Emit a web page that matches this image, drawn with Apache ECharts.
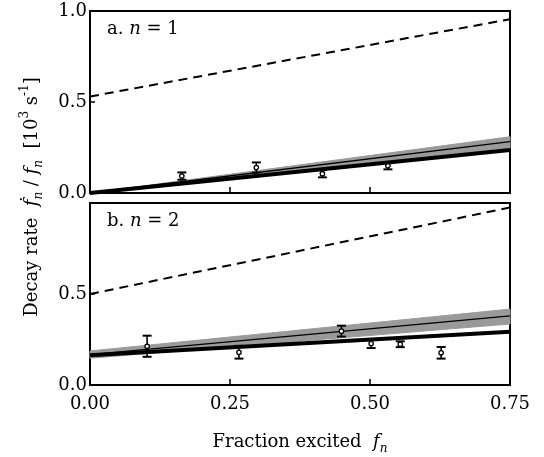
<!DOCTYPE html>
<html><head><meta charset="utf-8">
<script src="https://cdn.jsdelivr.net/npm/echarts@6/dist/echarts.min.js"></script>
<style>html,body{margin:0;padding:0;background:#fff}#c{width:544px;height:457px}</style>
</head><body><div id="c"></div>
<script>
// ---- tick labels ----
const xTicks = [0, 0.25, 0.5, 0.75];
const xTickLabels = ['0.00', '0.25', '0.50', '0.75'];
const yTicks = [0, 0.5, 1.0];
const yTickLabels = ['0.0', '0.5', '1.0'];

// ---- x positions of the straight model lines ----
const lineX = [0, 0.75];

// ---- panel a (n = 1) ----
const dashedA = [0.53, 0.955];
const thickA = [0.0, 0.236];
const thinA = [0.0, 0.282];
const bandLowA = [0.0, 0.245];
const bandHighA = [0.0, 0.309];
const ptsXA = [0.164, 0.297, 0.415, 0.532];
const ptsYA = [0.093, 0.140, 0.106, 0.150];
const errA = [0.020, 0.028, 0.020, 0.020];

// ---- panel b (n = 2) ----
const dashedB = [0.50, 0.975];
const thickB = [0.163, 0.292];
const thinB = [0.167, 0.380];
const bandLowB = [0.147, 0.335];
const bandHighB = [0.187, 0.417];
const ptsXB = [0.102, 0.266, 0.449, 0.502, 0.554, 0.627];
const ptsYB = [0.213, 0.180, 0.296, 0.228, 0.224, 0.177];
const errB = [0.058, 0.035, 0.030, 0.025, 0.016, 0.032];

const FONT = 'DejaVu Serif';
const chart = echarts.init(document.getElementById('c'), null, {renderer: 'canvas'});

function pairs(xs, ys) { return xs.map((x, i) => [x, ys[i]]); }

function bandSeries(idx, low, high) {
  return {
    type: 'custom', xAxisIndex: idx, yAxisIndex: idx, z: 1, silent: true,
    data: lineX.map((x, i) => [x, low[i], high[i]]),
    renderItem: function (params, api) {
      if (params.dataIndex !== 0) return null;
      const pts = [];
      for (let i = 0; i < lineX.length; i++) pts.push(api.coord([lineX[i], low[i]]));
      for (let i = lineX.length - 1; i >= 0; i--) pts.push(api.coord([lineX[i], high[i]]));
      return {type: 'polygon', shape: {points: pts}, style: {fill: '#9a9a9a', stroke: '#9a9a9a', lineWidth: 1}};
    }
  };
}

function errSeries(idx, xs, ys, es) {
  return {
    type: 'custom', xAxisIndex: idx, yAxisIndex: idx, z: 10, silent: true,
    data: xs.map((x, i) => [x, ys[i], es[i]]),
    renderItem: function (params, api) {
      const x = api.value(0), y = api.value(1), e = api.value(2);
      const c = api.coord([x, y]);
      const hi = api.coord([x, y + e]);
      const lo = api.coord([x, y - e]);
      const cw = 4.5;
      const st = {stroke: '#000', lineWidth: 1.6, fill: null};
      return {type: 'group', children: [
        {type: 'line', shape: {x1: c[0], y1: hi[1], x2: c[0], y2: lo[1]}, style: st},
        {type: 'line', shape: {x1: c[0] - cw, y1: hi[1], x2: c[0] + cw, y2: hi[1]}, style: {stroke: '#000', lineWidth: 2}},
        {type: 'line', shape: {x1: c[0] - cw, y1: lo[1], x2: c[0] + cw, y2: lo[1]}, style: {stroke: '#000', lineWidth: 2}},
        {type: 'circle', shape: {cx: c[0], cy: c[1], r: 2.2}, style: {fill: '#fff', stroke: '#000', lineWidth: 1.3}}
      ]};
    }
  };
}

function lineSeries(idx, ys, width, dashed, z) {
  return {
    type: 'line', xAxisIndex: idx, yAxisIndex: idx, z: z, silent: true,
    data: pairs(lineX, ys), symbol: 'none', animation: false,
    lineStyle: {color: '#000', width: width, type: dashed ? [9, 6] : 'solid'}
  };
}

function xAxisCfg(idx, showLabels) {
  return {
    type: 'value', gridIndex: idx, min: 0, max: 0.75, interval: 0.25,
    splitLine: {show: false},
    axisLine: {show: false},
    axisTick: {show: true, inside: true, length: 6, lineStyle: {color: '#000', width: 1.5}},
    axisLabel: {show: showLabels, margin: 10, color: '#000', fontFamily: FONT, fontSize: 18,
      formatter: v => xTickLabels[xTicks.findIndex(t => Math.abs(t - v) < 1e-9)]}
  };
}
function yAxisCfg(idx, showMax) {
  return {
    type: 'value', gridIndex: idx, min: 0, max: 1, interval: 0.5,
    splitLine: {show: false},
    axisLine: {show: false},
    axisTick: {show: true, inside: true, length: 5, lineStyle: {color: '#000', width: 1.5}},
    axisLabel: {margin: 3, color: '#000', fontFamily: FONT, fontSize: 18, showMaxLabel: showMax,
      formatter: v => yTickLabels[yTicks.findIndex(t => Math.abs(t - v) < 1e-9)]}
  };
}

const option = {
  backgroundColor: '#fff',
  animation: false,
  grid: [
    {left: 90, top: 11, width: 420, height: 182, show: true, borderColor: '#000', borderWidth: 2, backgroundColor: 'transparent'},
    {left: 90, top: 203, width: 420, height: 182, show: true, borderColor: '#000', borderWidth: 2, backgroundColor: 'transparent'}
  ],
  xAxis: [xAxisCfg(0, false), xAxisCfg(1, true)],
  yAxis: [yAxisCfg(0, true), yAxisCfg(1, false)],
  series: [
    bandSeries(0, bandLowA, bandHighA),
    lineSeries(0, thinA, 1.3, false, 3),
    lineSeries(0, thickA, 4, false, 4),
    lineSeries(0, dashedA, 2, true, 5),
    errSeries(0, ptsXA, ptsYA, errA),
    bandSeries(1, bandLowB, bandHighB),
    lineSeries(1, thinB, 1.3, false, 3),
    lineSeries(1, thickB, 4, false, 4),
    lineSeries(1, dashedB, 2, true, 5),
    errSeries(1, ptsXB, ptsYB, errB)
  ],
  graphic: [
    {type: 'text', left: 107, top: 20, style: {
      text: '{r|a. }{i|n}{r| = 1}', fill: '#000',
      rich: {r: {fontFamily: FONT, fontSize: 18, fill: '#000'}, i: {fontFamily: FONT, fontStyle: 'italic', fontSize: 18, fill: '#000'}}}},
    {type: 'text', left: 107, top: 212, style: {
      text: '{r|b. }{i|n}{r| = 2}', fill: '#000',
      rich: {r: {fontFamily: FONT, fontSize: 18, fill: '#000'}, i: {fontFamily: FONT, fontStyle: 'italic', fontSize: 18, fill: '#000'}}}},
    {type: 'text', x: 300, y: 442, style: {
      text: '{r|Fraction excited  }{i|f}{s|n}', align: 'center', verticalAlign: 'middle', fill: '#000',
      rich: {
        r: {fontFamily: FONT, fontSize: 18, lineHeight: 26, verticalAlign: 'middle', fill: '#000'},
        i: {fontFamily: FONT, fontStyle: 'italic', fontSize: 18, lineHeight: 26, verticalAlign: 'middle', fill: '#000'},
        s: {fontFamily: FONT, fontStyle: 'italic', fontSize: 12, lineHeight: 26, verticalAlign: 'bottom', fill: '#000'}
      }}},
    {type: 'text', x: 32, y: 197, rotation: Math.PI / 2, style: {
      text: '{r|Decay rate  }{i|ḟ}{s|n}{r| / }{i|f}{s|n}{r|  [10}{p|3}{r| s}{p|-1}{r|]}',
      align: 'center', verticalAlign: 'middle', fill: '#000',
      rich: {
        r: {fontFamily: FONT, fontSize: 18, lineHeight: 26, verticalAlign: 'middle', fill: '#000'},
        i: {fontFamily: FONT, fontStyle: 'italic', fontSize: 18, lineHeight: 26, verticalAlign: 'middle', fill: '#000'},
        s: {fontFamily: FONT, fontStyle: 'italic', fontSize: 12, lineHeight: 26, verticalAlign: 'bottom', fill: '#000'},
        p: {fontFamily: FONT, fontSize: 12, lineHeight: 26, verticalAlign: 'top', fill: '#000'}
      }}}
  ]
};
chart.setOption(option);
</script>
</body></html>
